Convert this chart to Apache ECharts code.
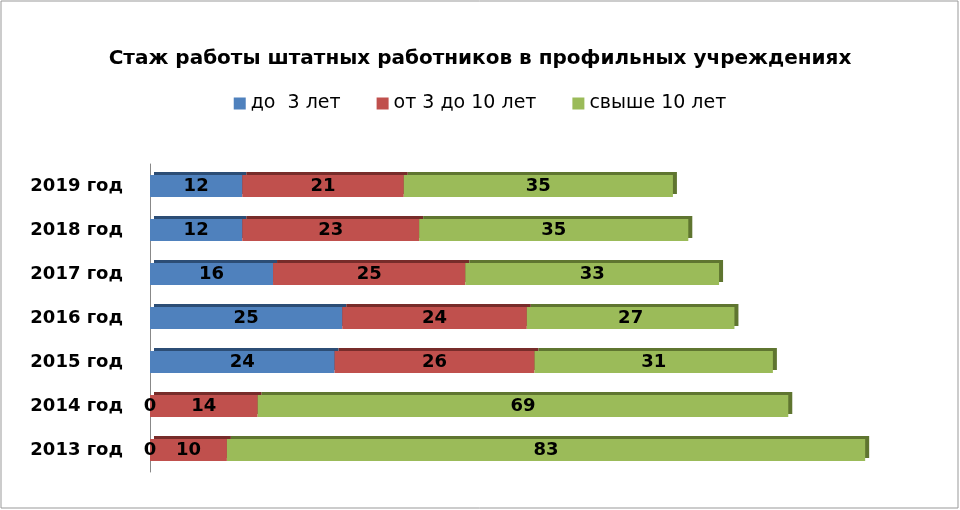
<!DOCTYPE html>
<html><head><meta charset="utf-8">
<script src="https://cdn.jsdelivr.net/npm/echarts@6/dist/echarts.min.js"></script>
<style>html,body{margin:0;padding:0;background:#fff}#c{width:960px;height:510px}</style>
</head><body><div id="c"></div>
<script>
const categories = ['2013 год','2014 год','2015 год','2016 год','2017 год','2018 год','2019 год'];
const under3 = [0,0,24,25,16,12,12];
const from3to10 = [10,14,26,24,25,23,21];
const over10 = [83,69,31,27,33,35,35];
const seriesNames = ['до  3 лет','от 3 до 10 лет','свыше 10 лет'];
const colors = ['#4F81BD','#C0504D','#9BBB59'];
const shadows = ['#2c4d75','#772c2a','#5f7530'];
const chart = echarts.init(document.getElementById('c'));
const mk = (i, data) => ({
  name: seriesNames[i], type: 'bar', stack: 's', data: data, barWidth: 22,
  itemStyle: {color: colors[i], shadowColor: shadows[i], shadowOffsetX: 4, shadowOffsetY: -3, shadowBlur: 0},
  label: {show: true, position: 'inside', color: '#000', fontWeight: 'bold', fontSize: 18, fontFamily: 'DejaVu Sans'}
});
chart.setOption({
  animation: false,
  title: {text: 'Стаж работы штатных работников в профильных учреждениях', left: 'center', top: 44,
    textStyle: {fontSize: 20, fontWeight: 'bold', color: '#000', fontFamily: 'DejaVu Sans'}},
  legend: {top: 89, left: 'center', itemWidth: 12, itemHeight: 12, icon: 'rect', itemGap: 36,
    textStyle: {fontSize: 19, color: '#000', fontFamily: 'DejaVu Sans'}},
  grid: {left: 150, right: 41, top: 164, bottom: 38},
  xAxis: {type: 'value', min: 0, max: 100, show: false},
  yAxis: {type: 'category', data: categories,
    axisLine: {show: true, lineStyle: {color: '#888'}}, axisTick: {show: false},
    axisLabel: {color: '#000', fontWeight: 'bold', fontSize: 18, margin: 27, fontFamily: 'DejaVu Sans'}},
  series: [mk(0, under3), mk(1, from3to10), mk(2, over10)],
  graphic: [{type: 'rect', shape: {x: 1, y: 1, width: 957, height: 507}, style: {fill: 'none', stroke: '#999', lineWidth: 1}}]
});
</script></body></html>
